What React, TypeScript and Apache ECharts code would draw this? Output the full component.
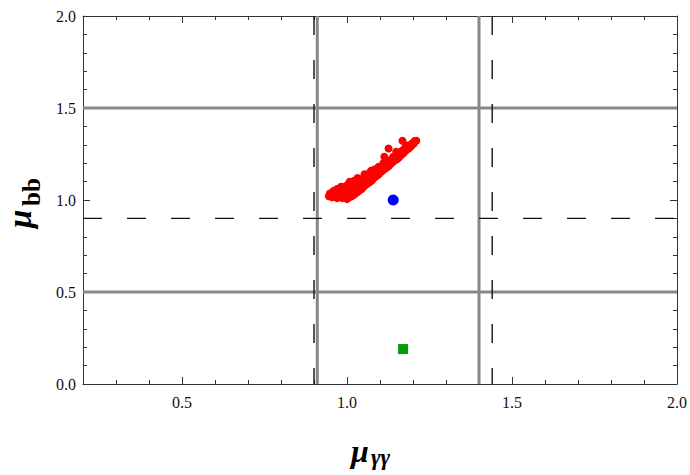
import React, { useEffect, useRef } from "react";
import * as echarts from "echarts";

const xRange = [0.2, 2.0];
const yRange = [0.0, 2.0];
const majorTicksX = [0.5, 1.0, 1.5, 2.0];
const majorTicksY = [0.0, 0.5, 1.0, 1.5, 2.0];
const grayVerticalX = [0.91, 1.4];
const grayHorizontalY = [0.5, 1.5];
const dashedVerticalX = [0.9, 1.44];
const dashedHorizontalY = [0.9];
const bluePoint = [[1.14, 1.0]];
const greenPoint = [[1.17, 0.19]];
const redPoints = [
  [0.945, 1.02], [0.948, 1.035], [0.955, 1.015], [0.955, 1.04], [0.96, 1.05],
  [0.962, 1.025], [0.977, 1.022], [0.977, 1.047],
  [0.97, 1.01], [0.97, 1.035], [0.97, 1.06],
  [0.985, 1.01], [0.985, 1.035], [0.985, 1.06], [0.982, 1.072],
  [0.992, 1.02], [0.992, 1.045], [0.992, 1.07],
  [1.0, 1.005], [1.0, 1.03], [1.0, 1.055], [1.0, 1.08], [1.008, 1.099],
  [1.007, 1.015], [1.007, 1.04], [1.007, 1.065], [1.007, 1.085],
  [1.015, 1.02], [1.015, 1.045], [1.015, 1.07], [1.015, 1.095],
  [1.022, 1.03], [1.022, 1.055], [1.022, 1.08], [1.022, 1.105],
  [1.03, 1.04], [1.03, 1.065], [1.03, 1.09], [1.032, 1.12],
  [1.037, 1.05], [1.037, 1.075], [1.037, 1.1],
  [1.045, 1.06], [1.045, 1.085], [1.045, 1.11], [1.053, 1.14],
  [1.052, 1.075], [1.052, 1.1], [1.052, 1.125],
  [1.06, 1.085], [1.06, 1.11], [1.06, 1.135], [1.073, 1.159],
  [1.067, 1.095], [1.067, 1.12], [1.067, 1.145],
  [1.075, 1.105], [1.075, 1.13], [1.075, 1.15],
  [1.082, 1.12], [1.082, 1.145], [1.082, 1.165],
  [1.09, 1.13], [1.09, 1.155], [1.095, 1.18],
  [1.097, 1.14], [1.097, 1.165],
  [1.105, 1.155], [1.105, 1.175], [1.113, 1.235], [1.11, 1.2],
  [1.112, 1.165], [1.112, 1.19],
  [1.12, 1.175], [1.12, 1.195], [1.126, 1.28], [1.125, 1.215],
  [1.127, 1.185], [1.127, 1.205],
  [1.135, 1.2], [1.135, 1.22], [1.14, 1.235],
  [1.142, 1.21], [1.142, 1.225],
  [1.15, 1.22], [1.15, 1.24], [1.149, 1.262],
  [1.157, 1.23], [1.157, 1.25],
  [1.165, 1.245], [1.165, 1.265], [1.168, 1.322],
  [1.172, 1.255], [1.172, 1.275],
  [1.18, 1.27], [1.18, 1.285], [1.179, 1.298],
  [1.187, 1.28], [1.187, 1.295],
  [1.195, 1.292], [1.195, 1.305], [1.202, 1.305], [1.204, 1.32], [1.21, 1.322],
];

const SERIF = "Liberation Serif";

function isMajor(v: number) {
  return Math.abs(v * 2 - Math.round(v * 2)) < 1e-6;
}

export default function App() {
  const ref = useRef<HTMLDivElement>(null);
  useEffect(() => {
    document.body.style.margin = "0";
    if (!ref.current) return;
    const chart = echarts.init(ref.current, null, { renderer: "svg" });

    const axisColor = "#333";
    const minorX = (pos: string, labels: boolean) => ({
      type: "value",
      position: pos,
      min: xRange[0],
      max: xRange[1],
      interval: 0.1,
      axisLine: { show: true, onZero: false, lineStyle: { color: axisColor, width: 1 } },
      axisTick: { show: true, inside: true, length: 4, lineStyle: { color: axisColor, width: 1 } },
      axisLabel: labels
        ? {
            show: true,
            margin: 10,
            color: "#111",
            fontFamily: SERIF,
            fontSize: 16,
            formatter: (v: number) => (isMajor(v) ? v.toFixed(1) : ""),
            showMinLabel: true,
            showMaxLabel: true,
          }
        : { show: false },
      splitLine: { show: false },
    });
    const majorX = (pos: string) => ({
      type: "value",
      position: pos,
      min: xRange[0],
      max: xRange[1],
      axisLine: { show: false, onZero: false },
      axisTick: {
        show: true,
        inside: true,
        length: 7,
        customValues: majorTicksX,
        lineStyle: { color: axisColor, width: 1 },
      },
      axisLabel: { show: false },
      splitLine: { show: false },
    });
    const minorY = (pos: string, labels: boolean) => ({
      type: "value",
      position: pos,
      min: yRange[0],
      max: yRange[1],
      interval: 0.1,
      axisLine: { show: true, onZero: false, lineStyle: { color: axisColor, width: 1 } },
      axisTick: { show: true, inside: true, length: 4, lineStyle: { color: axisColor, width: 1 } },
      axisLabel: labels
        ? {
            show: true,
            margin: 7,
            color: "#111",
            fontFamily: SERIF,
            fontSize: 16,
            formatter: (v: number) => (isMajor(v) ? v.toFixed(1) : ""),
            showMinLabel: true,
            showMaxLabel: true,
          }
        : { show: false },
      splitLine: { show: false },
    });
    const majorY = (pos: string) => ({
      type: "value",
      position: pos,
      min: yRange[0],
      max: yRange[1],
      axisLine: { show: false, onZero: false },
      axisTick: {
        show: true,
        inside: true,
        length: 7,
        customValues: majorTicksY,
        lineStyle: { color: axisColor, width: 1 },
      },
      axisLabel: { show: false },
      splitLine: { show: false },
    });

    const lineSeries = (data: number[][], color: string, width: number, type: any, z: number) => ({
      type: "line",
      xAxisIndex: 0,
      yAxisIndex: 0,
      data,
      showSymbol: false,
      symbol: "none",
      silent: true,
      z,
      lineStyle: { color, width, type },
    });

    const series: any[] = [];
    grayVerticalX.forEach((x) =>
      series.push(lineSeries([[x, yRange[0]], [x, yRange[1]]], "#888888", 3, "solid", 2))
    );
    grayHorizontalY.forEach((y) =>
      series.push(lineSeries([[xRange[0], y], [xRange[1], y]], "#888888", 3, "solid", 2))
    );
    dashedVerticalX.forEach((x) =>
      series.push(lineSeries([[x, yRange[1]], [x, yRange[0]]], "#111111", 1.4, [19, 25], 3))
    );
    dashedHorizontalY.forEach((y) =>
      series.push(lineSeries([[xRange[0], y], [xRange[1], y]], "#111111", 1.4, [19, 25], 3))
    );
    series.push({
      type: "scatter",
      xAxisIndex: 0,
      yAxisIndex: 0,
      data: redPoints,
      symbol: "circle",
      symbolSize: 8,
      itemStyle: { color: "#ff0000", opacity: 1 },
      silent: true,
      z: 4,
    });
    series.push({
      type: "scatter",
      xAxisIndex: 0,
      yAxisIndex: 0,
      data: bluePoint,
      symbol: "circle",
      symbolSize: 11,
      itemStyle: { color: "#0000ff", opacity: 1 },
      silent: true,
      z: 4,
    });
    series.push({
      type: "scatter",
      xAxisIndex: 0,
      yAxisIndex: 0,
      data: greenPoint,
      symbol: "rect",
      symbolSize: 10,
      itemStyle: { color: "#00a000", opacity: 1 },
      silent: true,
      z: 4,
    });

    chart.setOption({
      animation: false,
      backgroundColor: "#ffffff",
      grid: { left: 83, right: 12, top: 16, bottom: 91, containLabel: false },
      xAxis: [minorX("bottom", true), majorX("bottom"), minorX("top", false), majorX("top")],
      yAxis: [minorY("left", true), majorY("left"), minorY("right", false), majorY("right")],
      series,
      graphic: [
        {
          type: "group",
          silent: true,
          children: [
            {
              type: "text",
              x: 351,
              y: 451,
              style: {
                text: "μ",
                font: `italic bold 32px ${SERIF}`,
                fill: "#000",
                align: "left",
                verticalAlign: "middle",
              },
            },
            {
              type: "text",
              x: 371,
              y: 457,
              style: {
                text: "γγ",
                font: `italic bold 23px ${SERIF}`,
                fill: "#000",
                align: "left",
                verticalAlign: "middle",
              },
            },
          ],
        },
        {
          type: "group",
          silent: true,
          x: 2,
          y: 228,
          rotation: Math.PI / 2,
          children: [
            {
              type: "text",
              x: 0,
              y: 18,
              style: {
                text: "μ",
                font: `italic bold 33px ${SERIF}`,
                fill: "#000",
                align: "left",
                verticalAlign: "middle",
              },
            },
            {
              type: "text",
              x: 22,
              y: 29,
              style: {
                text: "bb",
                font: `bold 25px ${SERIF}`,
                fill: "#000",
                align: "left",
                verticalAlign: "middle",
              },
            },
          ],
        },
      ],
    });
    return () => chart.dispose();
  }, []);
  return <div ref={ref} style={{ width: 690, height: 475 }} />;
}
